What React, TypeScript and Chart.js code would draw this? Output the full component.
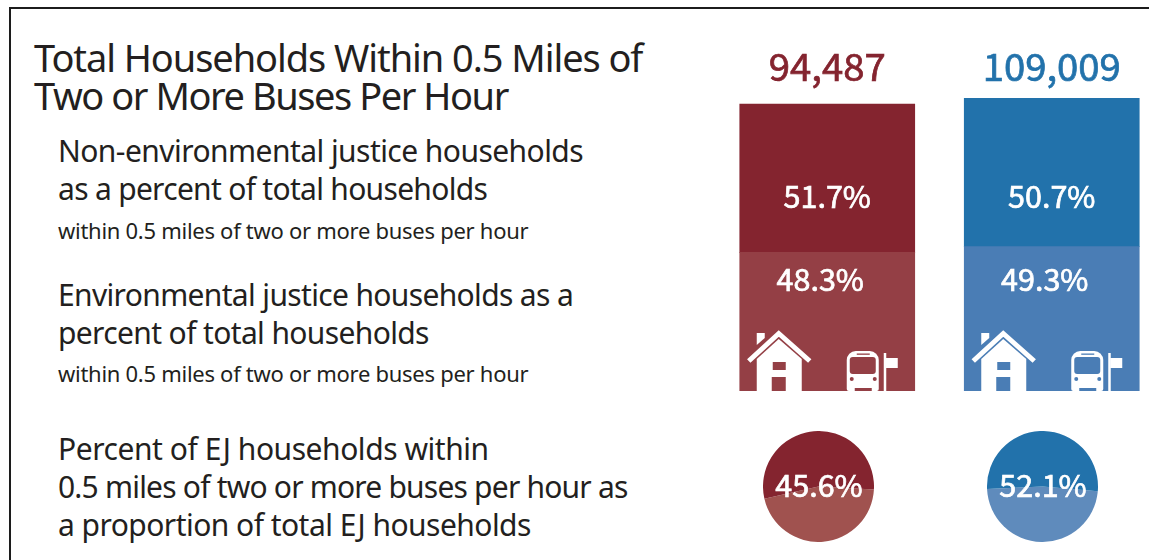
import React, { useEffect, useRef } from "react";
import { Chart, registerables } from "chart.js";

Chart.register(...registerables);

// Areas compared side by side
const areas = ["Red area", "Blue area"];
const totals = ["94,487", "109,009"];
const nonEjShare = [51.7, 50.7];
const ejShare = [48.3, 49.3];
const redProportion = [45.6, 54.4];
const blueProportion = [47.9, 52.1];
const redProportionLabel = "45.6%";
const blueProportionLabel = "52.1%";

const titleLines = ["Total Households Within 0.5 Miles of", "Two or More Buses Per Hour"];
const noteLines = [
  "Non-environmental justice households",
  "as a percent of total households",
  "within 0.5 miles of two or more buses per hour",
  "Environmental justice households as a",
  "percent of total households",
  "within 0.5 miles of two or more buses per hour",
  "Percent of EJ households within",
  "0.5 miles of two or more buses per hour as",
  "a proportion of total EJ households",
];

const RED = "#84242f";
const RED_LIGHT = "#943f45";
const RED_PIE_LIGHT = "#a0524f";
const BLUE = "#2272ab";
const BLUE_LIGHT = "#4a7db5";
const BLUE_PIE_LIGHT = "#5f8bbc";
const LABEL_FONT = '"Noto Sans CJK SC", "Noto Sans", sans-serif';
const TEXT_FONT = '"Noto Sans", sans-serif';

// Layout of the title: [baseline, letter spacing]
const titleLayout: [number, number][] = [
  [72, -1.07],
  [110, -1.45],
];

// Layout of the descriptive text: [baseline, font size, letter spacing]
const noteLayout: [number, number, number][] = [
  [162, 30, -0.55],
  [200, 30, -0.7],
  [239, 22, -0.28],
  [306, 30, -0.65],
  [344, 30, -0.63],
  [382, 22, -0.28],
  [460, 30, -0.45],
  [498, 30, -0.8],
  [536, 30, -0.54],
];

function drawHouse(ctx: CanvasRenderingContext2D, left: number, base: number, fill: string) {
  const X = (d: number) => left + d;
  const Y = (d: number) => base + d;
  ctx.fillStyle = "#fff";
  ctx.strokeStyle = "#fff";
  ctx.beginPath();
  ctx.moveTo(X(17), Y(-58));
  ctx.lineTo(X(25), Y(-58));
  ctx.lineTo(X(25), Y(-53));
  ctx.lineTo(X(17), Y(-46));
  ctx.closePath();
  ctx.fill();
  ctx.lineWidth = 5;
  ctx.lineJoin = "miter";
  ctx.beginPath();
  ctx.moveTo(X(9), Y(-30));
  ctx.lineTo(X(39), Y(-57.5));
  ctx.lineTo(X(70), Y(-30));
  ctx.stroke();
  ctx.beginPath();
  ctx.moveTo(X(17), Y(0));
  ctx.lineTo(X(17), Y(-32));
  ctx.lineTo(X(39), Y(-52));
  ctx.lineTo(X(62), Y(-32));
  ctx.lineTo(X(62), Y(0));
  ctx.closePath();
  ctx.fill();
  ctx.fillStyle = fill;
  ctx.fillRect(X(33), Y(-29), 13, 8);
  ctx.fillRect(X(32), Y(-14), 14, 14);
}

function drawBus(ctx: CanvasRenderingContext2D, left: number, base: number, fill: string) {
  const X = (d: number) => left + d;
  const Y = (d: number) => base + d;
  ctx.fillStyle = "#fff";
  ctx.beginPath();
  ctx.roundRect(X(107), Y(-40), 32, 40, [9, 9, 2, 2]);
  ctx.fill();
  ctx.fillRect(X(144), Y(-38), 2.5, 38);
  ctx.fillRect(X(146), Y(-33), 12, 10);
  ctx.fillStyle = fill;
  ctx.beginPath();
  ctx.roundRect(X(110), Y(-34), 26, 17, 3);
  ctx.fill();
  ctx.fillRect(X(117), Y(-37.5), 13, 1.3);
  ctx.fillRect(X(115), Y(-3), 17, 3);
  ctx.beginPath();
  ctx.arc(X(112), Y(-12), 2, 0, Math.PI * 2);
  ctx.arc(X(135), Y(-12), 2, 0, Math.PI * 2);
  ctx.fill();
}

function centredText(
  ctx: CanvasRenderingContext2D,
  text: string,
  x: number,
  y: number,
  size: number,
  color: string,
) {
  ctx.save();
  ctx.font = `400 ${size}px ${LABEL_FONT}`;
  ctx.fillStyle = color;
  ctx.strokeStyle = color;
  ctx.lineWidth = 0.7;
  ctx.textAlign = "center";
  ctx.textBaseline = "alphabetic";
  ctx.fillText(text, x, y);
  ctx.strokeText(text, x, y);
  ctx.restore();
}

// Totals above the bars, shares inside them and the house and bus pictograms
const barDecorations = {
  id: "barDecorations",
  afterDatasetsDraw(chart: Chart) {
    const { ctx } = chart;
    const upperDatasets = [1, 3];
    const lowerDatasets = [0, 2];
    const lowerColors = [RED_LIGHT, BLUE_LIGHT];
    const totalColors = [RED, BLUE];
    areas.forEach((_, i) => {
      const upper = chart.getDatasetMeta(upperDatasets[i]).data[i] as any;
      const lower = chart.getDatasetMeta(lowerDatasets[i]).data[i] as any;
      const left = upper.x - 87.5;
      centredText(ctx, `${nonEjShare[i].toFixed(1)}%`, upper.x, 208, 30.5, "#fff");
      centredText(ctx, `${ejShare[i].toFixed(1)}%`, upper.x - 7, 291, 30.5, "#fff");
      centredText(ctx, totals[i], upper.x, 81, 38.3, totalColors[i]);
      drawHouse(ctx, left, lower.base, lowerColors[i]);
      drawBus(ctx, left, lower.base, lowerColors[i]);
    });
  },
};

function pieLabel(text: string) {
  return {
    id: "pieLabel",
    afterDatasetsDraw(chart: Chart) {
      const arc = chart.getDatasetMeta(0).data[0] as any;
      centredText(chart.ctx, text, arc.x + 0.5, arc.y + 10, 30.5, "#fff");
    },
  };
}

export default function App() {
  const barRef = useRef<HTMLCanvasElement>(null);
  const redPieRef = useRef<HTMLCanvasElement>(null);
  const bluePieRef = useRef<HTMLCanvasElement>(null);

  useEffect(() => {
    document.body.style.margin = "0";
    const common = {
      responsive: false,
      animation: false as const,
      plugins: { legend: { display: false }, tooltip: { enabled: false } },
    };
    const bars = new Chart(barRef.current!, {
      type: "bar",
      data: {
        labels: areas,
        datasets: [
          { label: "EJ", data: [ejShare[0], null], backgroundColor: RED_LIGHT, yAxisID: "yRed" },
          { label: "Non-EJ", data: [nonEjShare[0], null], backgroundColor: RED, yAxisID: "yRed" },
          { label: "EJ", data: [null, ejShare[1]], backgroundColor: BLUE_LIGHT, yAxisID: "yBlue" },
          { label: "Non-EJ", data: [null, nonEjShare[1]], backgroundColor: BLUE, yAxisID: "yBlue" },
        ],
      },
      options: {
        ...common,
        barThickness: 175,
        layout: { padding: { top: 98, bottom: 169, left: 0, right: 0 } },
        scales: {
          x: { stacked: true, display: false },
          yRed: { stacked: true, display: false, min: 0, max: 102.1 },
          yBlue: { stacked: true, display: false, min: 0, max: 100 },
        },
      } as any,
      plugins: [barDecorations],
    });
    const redPie = new Chart(redPieRef.current!, {
      type: "pie",
      data: {
        labels: ["Lower", "Upper"],
        datasets: [{ data: redProportion, backgroundColor: [RED_PIE_LIGHT, RED], borderWidth: 0 }],
      },
      options: { ...common, rotation: 93 },
      plugins: [pieLabel(redProportionLabel)],
    });
    const bluePie = new Chart(bluePieRef.current!, {
      type: "pie",
      data: {
        labels: ["Lower", "Upper"],
        datasets: [{ data: blueProportion, backgroundColor: [BLUE_PIE_LIGHT, BLUE], borderWidth: 0 }],
      },
      options: { ...common, rotation: 95 },
      plugins: [pieLabel(blueProportionLabel)],
    });
    return () => {
      bars.destroy();
      redPie.destroy();
      bluePie.destroy();
    };
  }, []);

  const line = (text: string, baseline: number, left: number, size: number, spacing: number) => (
    <div
      key={`${text}-${baseline}`}
      style={{
        position: "absolute",
        left,
        top: baseline - Math.round(size * 1.069),
        fontFamily: TEXT_FONT,
        fontSize: size,
        lineHeight: `${Math.round(size * 1.362)}px`,
        letterSpacing: spacing,
        color: "#231f20",
        whiteSpace: "nowrap",
      }}
    >
      {text}
    </div>
  );

  return (
    <div style={{ position: "relative", width: 1149, height: 560, overflow: "hidden", background: "#fff" }}>
      <div
        style={{
          position: "absolute",
          left: 9,
          top: 7,
          width: 1160,
          height: 600,
          borderLeft: "2px solid #1c1c1c",
          borderTop: "2px solid #1c1c1c",
        }}
      />
      {titleLines.map((t, i) => line(t, titleLayout[i][0], 34, 38, titleLayout[i][1]))}
      {noteLines.map((t, i) => line(t, noteLayout[i][0], 58, noteLayout[i][1], noteLayout[i][2]))}
      <canvas
        ref={barRef}
        width={449}
        height={560}
        style={{ position: "absolute", left: 715, top: 0, width: 449, height: 560 }}
      />
      <canvas
        ref={redPieRef}
        width={111}
        height={111}
        style={{ position: "absolute", left: 763, top: 431, width: 111, height: 111 }}
      />
      <canvas
        ref={bluePieRef}
        width={111}
        height={111}
        style={{ position: "absolute", left: 987, top: 431, width: 111, height: 111 }}
      />
    </div>
  );
}
